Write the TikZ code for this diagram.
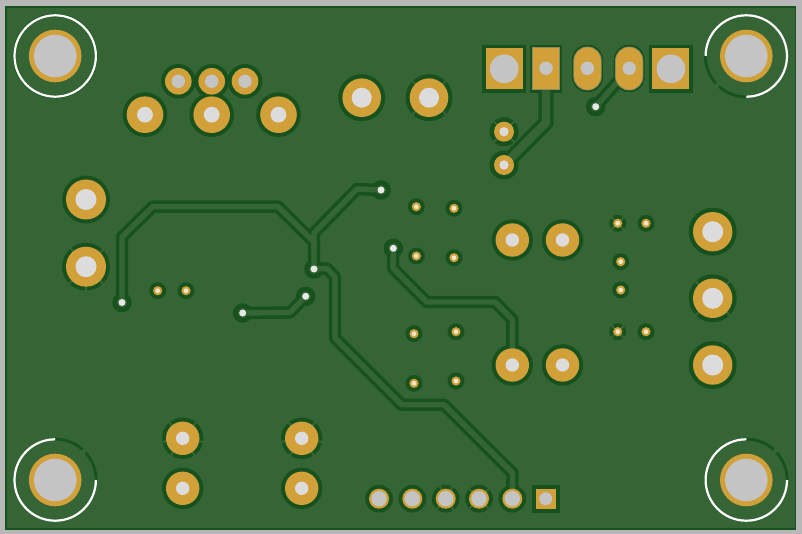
\documentclass[tikz,border=0pt]{standalone}
\pgfdeclarelayer{under}
\pgfdeclarelayer{tracks}
\pgfsetlayers{under,tracks,main}
\definecolor{bggrey}{HTML}{B8B8B8}
\definecolor{board}{HTML}{356535}
\definecolor{mask}{HTML}{17521E}
\definecolor{copper}{HTML}{D2A038}
\definecolor{holegrey}{HTML}{C4C4C4}
\definecolor{holelight}{HTML}{DCDCDC}
\definecolor{viawhite}{HTML}{E8E8E8}
\definecolor{smallhole}{HTML}{F0E6CC}
\definecolor{edgegrey}{HTML}{8F8A60}
\tikzset{
  disc/.style={circle,inner sep=0pt,outer sep=0pt,draw=none},
  block/.style={rectangle,inner sep=0pt,outer sep=0pt,draw=none},
  tdark/.style={line width=12.4pt,draw=mask,line join=round},
  tgreen/.style={line width=5.4pt,draw=board,line join=round},
  tdarkwide/.style={line width=15.4pt,draw=mask,line join=round},
  tgreenwide/.style={line width=8.4pt,draw=board,line join=round},
  gapline/.style={line width=2pt,draw=board},
  mountwhite/.style={line width=2.2pt,draw=white},
  mountdark/.style={line width=2.8pt,draw=mask}
}
% name, x, y, copper r, hole r, mask r, hole colour
\newcommand\roundpad[7]{%
  \begin{pgfonlayer}{under}
    \node[disc,fill=mask,minimum size=#6*2pt+1pt] at (#2,#3) {};
  \end{pgfonlayer}
  \node[disc,fill=copper,minimum size=#4*2pt] (#1) at (#2,#3) {};
  \node[disc,fill=#7,minimum size=#5*2pt] at (#2,#3) {};
}
% x, y, inner r, outer r, angles
\newcommand\reliefgaps[5]{%
  \begin{pgfonlayer}{under}
    \foreach \a in {#5} {
      \draw[gapline,shift={(#1,#2)}] (\a:#3pt) -- (\a:#4pt);
    }
  \end{pgfonlayer}
}
\newcommand\viahole[3]{%
  \begin{pgfonlayer}{under}
    \node[disc,fill=mask,minimum size=19.6pt] at (#2,#3) {};
  \end{pgfonlayer}
  \node[disc,fill=board,minimum size=10pt] (#1) at (#2,#3) {};
  \node[disc,fill=viawhite,minimum size=7pt] at (#2,#3) {};
}
\newcommand\mounthole[3]{%
  \node[disc,fill=copper,minimum size=52.6pt] (#1) at (#2,#3) {};
  \node[disc,fill=holegrey,minimum size=42.6pt] at (#2,#3) {};
}
\begin{document}
\begin{tikzpicture}[x=1pt,y=-1pt]
\useasboundingbox (0,0) rectangle (802,534);
\begin{pgfonlayer}{under}
  \fill[bggrey] (0,0) rectangle (802,534);
  \draw[fill=board,draw=mask,line width=1.8pt] (5.7,7) rectangle (795.5,529.3);
\end{pgfonlayer}

% mounting holes
\mounthole{mtl}{55.2}{56}
\mounthole{mtr}{746.3}{56}
\mounthole{mbl}{55.2}{480}
\mounthole{mbr}{746.3}{480}
\draw[mountdark] (mtl) circle[radius=41pt];
\draw[mountwhite] (mtl) circle[radius=40.7pt];
\draw[mountdark] (mtr)+(180:40.9pt) arc[start angle=180,end angle=222,radius=40.9pt];
\draw[mountdark] (mtr)+(228:40.9pt) arc[start angle=228,end angle=270,radius=40.9pt];
\draw[mountwhite] (mtr)+(180:40.7pt) arc[start angle=180,end angle=-90,radius=40.7pt];
\draw[mountdark] (mbl)+(0:40.9pt) arc[start angle=0,end angle=42,radius=40.9pt];
\draw[mountdark] (mbl)+(48:40.9pt) arc[start angle=48,end angle=90,radius=40.9pt];
\draw[mountwhite] (mbl)+(90:40.7pt) arc[start angle=90,end angle=360,radius=40.7pt];
\draw[mountdark] (mbr)+(0:40.9pt) arc[start angle=0,end angle=42,radius=40.9pt];
\draw[mountdark] (mbr)+(48:40.9pt) arc[start angle=48,end angle=90,radius=40.9pt];
\draw[mountwhite] (mbr)+(90:40.7pt) arc[start angle=90,end angle=360,radius=40.7pt];

% top-left cluster
\roundpad{pa}{178.3}{81.3}{13.3}{6.7}{16.8}{holegrey}
\roundpad{pb}{211.7}{81.3}{13.3}{6.7}{16.8}{holegrey}
\roundpad{pc}{245}{81.3}{13.3}{6.7}{16.8}{holegrey}
\roundpad{pd}{145}{114.7}{18.3}{7.9}{21.8}{holelight}
\roundpad{pe}{211.7}{114.7}{18.3}{7.9}{21.8}{holelight}
\roundpad{pf}{278.5}{114.7}{18.3}{7.9}{21.8}{holelight}
\roundpad{pg}{361.7}{97.7}{19.3}{10}{23}{holelight}
\roundpad{ph}{429}{97.7}{19.3}{10}{23}{holelight}
\reliefgaps{429}{97.7}{19}{24.5}{45,135,225,315}
% left large pads
\roundpad{pi}{86}{199.5}{20}{10.5}{23.4}{holelight}
\roundpad{pj}{86}{266.7}{20}{10.5}{23.4}{holelight}
\reliefgaps{86}{266.7}{19.5}{25}{45,130,225,270,315}
% right large pads
\roundpad{pk}{712.7}{231.7}{19.7}{10.5}{23.5}{holelight}
\roundpad{pl}{712.7}{298.3}{19.7}{10.5}{23.5}{holelight}
\reliefgaps{712.7}{298.3}{19.5}{25}{45,135,225,315}
\roundpad{pm}{712.7}{365}{19.7}{10.5}{23.5}{holelight}
% centre pads
\roundpad{pn}{512.3}{240}{16.7}{6.7}{20.2}{holelight}
\roundpad{po}{562.5}{240}{16.7}{6.7}{20.2}{holelight}
\roundpad{pp}{512.3}{365}{16.7}{6.7}{20.2}{holelight}
\roundpad{pq}{562.5}{365}{16.7}{6.7}{20.2}{holelight}
% lower-left pads
\roundpad{pr}{182.7}{438.3}{16.7}{6.7}{20.2}{holelight}
\roundpad{ps}{182.7}{488.3}{16.7}{6.7}{20.2}{holelight}
\roundpad{pt}{301.7}{438.3}{16.7}{6.7}{20.2}{holelight}
\roundpad{pu}{301.7}{488.3}{16.7}{6.7}{20.2}{holelight}
\reliefgaps{182.7}{438.3}{16.5}{21.5}{50,130,190,235,305,350}
\reliefgaps{301.7}{438.3}{16.5}{21.5}{50,130,190,235,305,350}
% pads beneath the connector
\roundpad{pv}{504}{131.7}{10}{4.7}{14}{holelight}
\roundpad{pw}{504}{165}{10}{4.7}{14}{holelight}
\reliefgaps{504}{131.7}{9.5}{15}{45,135,225,315}
% header row
\roundpad{ha}{379}{498.7}{10}{7.7}{13.4}{holegrey}
\roundpad{hb}{412.3}{498.7}{10}{7.7}{13.4}{holegrey}
\roundpad{hc}{445.7}{498.7}{10}{7.7}{13.4}{holegrey}
\roundpad{hd}{479}{498.7}{10}{7.7}{13.4}{holegrey}
\roundpad{he}{512.3}{498.7}{10}{7.7}{13.4}{holegrey}
\reliefgaps{445.7}{498.7}{9.5}{14.5}{60,115,230,305}
\reliefgaps{479}{498.7}{9.5}{14.5}{45,135,225,315}
\begin{pgfonlayer}{under}
  \node[block,fill=mask,minimum size=28pt] at (545.7,498.7) {};
\end{pgfonlayer}
\node[block,fill=copper,minimum size=20pt] (hf) at (545.7,498.7) {};
\node[disc,fill=holegrey,minimum size=13pt] at (545.7,498.7) {};
% small plated holes
\foreach \n/\x/\y in {s1/416.3/206.7,s2/454/208.3,s3/416.3/256,s4/454/257.7,s5/414/333.7,s6/456/331.7,s7/414/383.3,s8/456/381,s9/157.7/290.7,s10/186/290.7,s11/617.7/223.3,s12/646/223.3,s13/620.7/261.7,s14/620.7/290,s15/617.7/331.7,s16/646/331.7}{
  \roundpad{\n}{\x}{\y}{4.6}{2.4}{8}{smallhole}
}
\reliefgaps{617.7}{223.3}{4.5}{9}{45,135,225,315}
\reliefgaps{617.7}{331.7}{4.5}{9}{45,135,225,315}
% top connector
\begin{pgfonlayer}{under}
  \node[block,fill=mask,minimum width=43.7pt,minimum height=47.7pt] at (504.2,68.8) {};
  \node[block,fill=mask,minimum width=31.7pt,minimum height=47.7pt] at (546,68.8) {};
  \node[block,fill=mask,minimum width=31pt,minimum height=47.5pt,rounded corners=15pt] at (587.5,68.5) {};
  \node[block,fill=mask,minimum width=31pt,minimum height=47.5pt,rounded corners=15pt] at (629.2,68.5) {};
  \node[block,fill=mask,minimum width=43.7pt,minimum height=47.7pt] at (670.9,68.8) {};
\end{pgfonlayer}
\node[block,fill=copper,minimum width=37pt,minimum height=41pt] (ca) at (504.2,68.8) {};
\node[disc,fill=holegrey,minimum size=28.6pt] at (504.2,68.8) {};
\node[block,fill=copper,draw=edgegrey,line width=0.8pt,minimum width=27.7pt,minimum height=42.3pt] (cb) at (546,68.5) {};
\node[block,fill=copper,draw=edgegrey,line width=0.8pt,minimum width=27.4pt,minimum height=43pt,rounded corners=13.5pt] (cc) at (587.5,68.5) {};
\node[block,fill=copper,draw=edgegrey,line width=0.8pt,minimum width=27.4pt,minimum height=43pt,rounded corners=13.5pt] (cd) at (629.2,68.5) {};
\node[block,fill=copper,minimum width=37pt,minimum height=41pt] (ce) at (670.9,68.8) {};
\node[disc,fill=holegrey,minimum size=28.6pt] at (670.9,68.8) {};
\node[disc,fill=holegrey,minimum size=13.4pt] at (546,68.3) {};
\node[disc,fill=holegrey,minimum size=13.4pt] at (587.4,68.3) {};
\node[disc,fill=holegrey,minimum size=13.4pt] at (629.2,68.3) {};
% vias
\viahole{va}{122}{302.5}
\viahole{vb}{381}{190}
\viahole{vc}{393.3}{248.3}
\viahole{vd}{314}{269}
\viahole{ve}{305.7}{296.3}
\viahole{vf}{242.7}{313}
\viahole{vg}{595.7}{106.7}

% tracks
\begin{pgfonlayer}{tracks}
  \foreach \st in {tdark,tgreen}{
    \draw[\st] (va.center) -- (122,237) -- (152.7,206.7) -- (278,206.7) -- (314,242) -- (vd.center);
    \draw[\st] (vb.center) -- (357,189) -- (314,233) -- (314,250);
    \draw[\st] (vd.center) -- (327,268.5) -- (335,277) -- (335,338) -- (401.7,404.7) -- (444,404.7) -- (512.5,473) -- (he.center);
    \draw[\st] (vf.center) -- (290,312.5) -- (ve.center);
    \draw[\st] (vc.center) -- (393,268) -- (426.7,302) -- (495,302) -- (512.4,319.5) -- (pp.center);
    \draw[\st] (vg.center) -- (cd.center);
  }
  \foreach \st in {tdarkwide,tgreenwide}{
    \draw[\st] (cb.center) -- (546,122.7) -- (pw.center);
  }
\end{pgfonlayer}
\end{tikzpicture}
\end{document}
